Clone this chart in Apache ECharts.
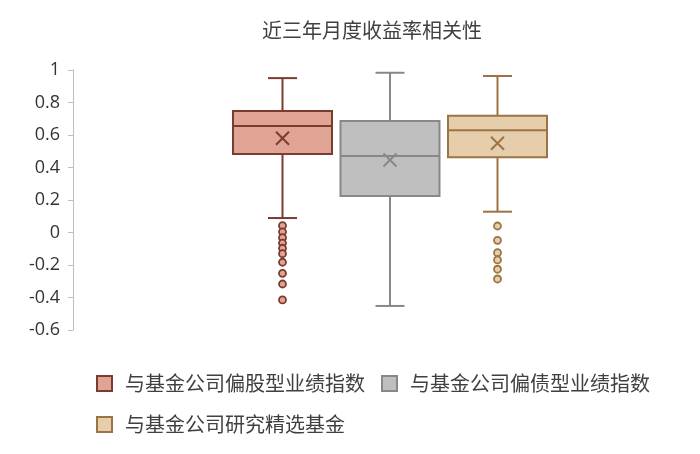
<!DOCTYPE html>
<html>
<head>
<meta charset="utf-8">
<script src="https://cdn.jsdelivr.net/npm/echarts@6/dist/echarts.min.js"></script>
<style>
  html, body { margin: 0; padding: 0; background: #fff; }
  #chart { width: 700px; height: 454px; }
</style>
</head>
<body>
<div id="chart"></div>
<script>
// 数据
const categories = ['偏股型', '偏债型', '研究精选'];
const seriesNames = ['与基金公司偏股型业绩指数', '与基金公司偏债型业绩指数', '与基金公司研究精选基金'];
// [最小, Q1, 中位数, Q3, 最大, 均值]
const stockBox = [0.089, 0.483, 0.655, 0.748, 0.95, 0.58];
const bondBox = [-0.452, 0.225, 0.471, 0.686, 0.983, 0.446];
const selectBox = [0.128, 0.463, 0.629, 0.719, 0.963, 0.549];
const stockOutliers = [0.042, 0.004, -0.032, -0.065, -0.097, -0.130, -0.183, -0.251, -0.317, -0.415];
const bondOutliers = [];
const selectOutliers = [0.040, -0.048, -0.124, -0.169, -0.226, -0.286];
const yTicks = { min: -0.6, max: 1, interval: 0.2 };

const fills = ['#E0A494', '#BFBFBF', '#E6CDAB'];
const strokes = ['#7B3B2E', '#888888', '#9C7443'];

const boxes = [stockBox, bondBox, selectBox];
const outliers = [stockOutliers, bondOutliers, selectOutliers];

function renderBox(fill, stroke) {
    return function (params, api) {
        const x = api.value(0);
        const pMin = api.coord([x, api.value(1)]);
        const pQ1 = api.coord([x, api.value(2)]);
        const pMed = api.coord([x, api.value(3)]);
        const pQ3 = api.coord([x, api.value(4)]);
        const pMax = api.coord([x, api.value(5)]);
        const pMean = api.coord([x, api.value(6)]);
        const cx = pMin[0];
        const half = 49.5, cap = 14.5, m = 6.5;
        const line = (x1, y1, x2, y2) => ({
            type: 'line',
            shape: { x1: x1, y1: y1, x2: x2, y2: y2 },
            style: { stroke: stroke, lineWidth: 2 }
        });
        return {
            type: 'group',
            children: [
                line(cx, pQ3[1], cx, pMax[1]),
                line(cx, pQ1[1], cx, pMin[1]),
                line(cx - cap, pMax[1], cx + cap, pMax[1]),
                line(cx - cap, pMin[1], cx + cap, pMin[1]),
                {
                    type: 'rect',
                    shape: { x: cx - half, y: pQ3[1], width: half * 2, height: pQ1[1] - pQ3[1] },
                    style: { fill: fill, stroke: stroke, lineWidth: 2 }
                },
                line(cx - half, pMed[1], cx + half, pMed[1]),
                line(cx - m, pMean[1] - m, cx + m, pMean[1] + m),
                line(cx - m, pMean[1] + m, cx + m, pMean[1] - m)
            ]
        };
    };
}

const series = [];
boxes.forEach((b, i) => {
    series.push({
        name: seriesNames[i],
        type: 'custom',
        renderItem: renderBox(fills[i], strokes[i]),
        itemStyle: { color: fills[i], borderColor: strokes[i], borderWidth: 2 },
        encode: { x: 0, y: [1, 2, 3, 4, 5, 6] },
        data: [[i].concat(b)]
    });
    series.push({
        name: seriesNames[i],
        type: 'scatter',
        symbol: 'circle',
        symbolSize: 7,
        itemStyle: { color: fills[i], borderColor: strokes[i], borderWidth: 1.8, opacity: 1 },
        data: outliers[i].map(v => [i, v])
    });
});

const chart = echarts.init(document.getElementById('chart'));
chart.setOption({
    animation: false,
    textStyle: { fontFamily: '"Noto Sans CJK SC", "Open Sans", sans-serif' },
    title: {
        text: '近三年月度收益率相关性',
        left: 257,
        top: 15,
        textStyle: { fontSize: 20, fontWeight: 'normal', color: '#404040', fontFamily: '"Noto Sans CJK SC", sans-serif' }
    },
    legend: {
        left: 91,
        top: 366,
        right: 20,
        icon: 'rect',
        itemWidth: 15,
        itemHeight: 15,
        itemGap: 16,
        data: seriesNames.map((n, i) => ({
            name: n,
            itemStyle: { color: fills[i], borderColor: strokes[i], borderWidth: 2 }
        })),
        textStyle: { fontSize: 20, color: '#404040', lineHeight: 25, padding: [0, 0, 0, 8], fontFamily: '"Noto Sans CJK SC", sans-serif' }
    },
    grid: { left: 228.75, right: 148.75, top: 70, bottom: 124, containLabel: false },
    xAxis: {
        type: 'category',
        data: categories,
        show: false
    },
    yAxis: {
        type: 'value',
        min: yTicks.min,
        max: yTicks.max,
        interval: yTicks.interval,
        offset: 155.75,
        axisLine: { show: true, lineStyle: { color: '#BFBFBF', width: 1 } },
        axisTick: { show: true, length: 5, lineStyle: { color: '#BFBFBF' } },
        splitLine: { show: false },
        axisLabel: { margin: 13, fontSize: 18, color: '#333333', fontFamily: '"Open Sans", sans-serif' }
    },
    series: series
});
</script>
</body>
</html>
